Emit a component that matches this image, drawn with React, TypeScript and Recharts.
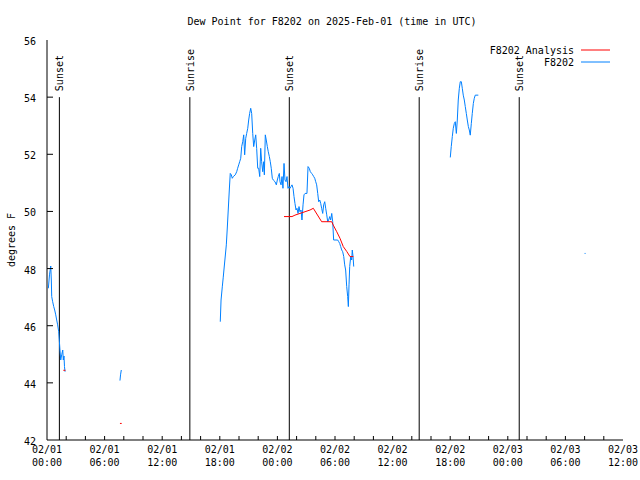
import React from "react";
import { LineChart, Line, XAxis, YAxis, ReferenceLine, ReferenceDot } from "recharts";

// hours since 02/01 00:00 UTC, dew point in °F
const obsSeg1 = [
  { h: 0.14, v: 47.31 }, { h: 0.26, v: 47.78 }, { h: 0.39, v: 48.09 }, { h: 0.45, v: 47.6 },
  { h: 0.49, v: 47.02 }, { h: 0.59, v: 46.84 }, { h: 0.7, v: 46.67 }, { h: 0.8, v: 46.55 },
  { h: 0.91, v: 46.38 }, { h: 1.01, v: 46.2 }, { h: 1.11, v: 46.03 }, { h: 1.22, v: 45.79 },
  { h: 1.28, v: 45.5 }, { h: 1.35, v: 45.15 }, { h: 1.43, v: 44.8 }, { h: 1.53, v: 44.98 },
  { h: 1.64, v: 45.15 }, { h: 1.7, v: 44.8 }, { h: 1.77, v: 44.94 }, { h: 1.82, v: 44.57 },
  { h: 1.88, v: 44.39 },
];

const obsSeg2 = [
  { h: 7.6, v: 44.08 }, { h: 7.66, v: 44.28 }, { h: 7.74, v: 44.45 },
];

const obsSeg3 = [
  { h: 18.05, v: 46.14 }, { h: 18.13, v: 46.9 }, { h: 18.26, v: 47.36 }, { h: 18.36, v: 47.7 },
  { h: 18.47, v: 48.09 }, { h: 18.57, v: 48.44 }, { h: 18.68, v: 48.83 }, { h: 18.78, v: 49.42 },
  { h: 18.89, v: 50.12 }, { h: 18.99, v: 50.75 }, { h: 19.09, v: 51.33 }, { h: 19.2, v: 51.28 },
  { h: 19.3, v: 51.16 }, { h: 19.41, v: 51.22 }, { h: 19.61, v: 51.28 }, { h: 19.76, v: 51.39 },
  { h: 19.86, v: 51.51 }, { h: 19.97, v: 51.63 }, { h: 20.07, v: 51.74 }, { h: 20.18, v: 51.86 },
  { h: 20.28, v: 52.27 }, { h: 20.39, v: 52.44 }, { h: 20.49, v: 52.68 }, { h: 20.59, v: 51.98 },
  { h: 20.7, v: 52.56 }, { h: 20.8, v: 52.73 }, { h: 20.91, v: 52.91 }, { h: 21.01, v: 53.2 },
  { h: 21.11, v: 53.43 }, { h: 21.22, v: 53.61 }, { h: 21.32, v: 53.43 }, { h: 21.43, v: 52.73 },
  { h: 21.53, v: 52.27 }, { h: 21.64, v: 52.5 }, { h: 21.74, v: 52.68 }, { h: 21.84, v: 52.21 },
  { h: 21.95, v: 51.51 }, { h: 22.05, v: 51.51 }, { h: 22.16, v: 51.22 }, { h: 22.26, v: 52.21 },
  { h: 22.36, v: 51.74 }, { h: 22.47, v: 51.39 }, { h: 22.57, v: 51.74 }, { h: 22.64, v: 51.28 },
  { h: 22.74, v: 52.68 }, { h: 22.84, v: 52.5 }, { h: 22.95, v: 52.27 }, { h: 23.05, v: 52.09 },
  { h: 23.16, v: 51.92 }, { h: 23.26, v: 51.74 }, { h: 23.36, v: 51.51 }, { h: 23.47, v: 51.16 },
  { h: 23.57, v: 51.1 }, { h: 23.75, v: 51.04 }, { h: 23.89, v: 50.93 }, { h: 23.99, v: 51.1 },
  { h: 24.09, v: 51.22 }, { h: 24.2, v: 51.33 }, { h: 24.27, v: 51.04 }, { h: 24.38, v: 50.93 },
  { h: 24.48, v: 51.22 }, { h: 24.58, v: 50.81 }, { h: 24.69, v: 51.68 }, { h: 24.79, v: 51.1 },
  { h: 24.9, v: 51.04 }, { h: 25.0, v: 51.22 }, { h: 25.1, v: 50.81 }, { h: 25.21, v: 50.87 },
  { h: 25.31, v: 50.81 }, { h: 25.42, v: 50.87 }, { h: 25.52, v: 50.93 }, { h: 25.63, v: 50.81 },
  { h: 25.73, v: 50.52 }, { h: 25.83, v: 50.28 }, { h: 25.94, v: 50.05 }, { h: 26.04, v: 50.11 },
  { h: 26.15, v: 49.93 }, { h: 26.25, v: 50.17 }, { h: 26.35, v: 49.99 }, { h: 26.46, v: 50.05 },
  { h: 26.56, v: 49.7 }, { h: 26.67, v: 50.23 }, { h: 26.77, v: 50.58 }, { h: 26.88, v: 50.63 },
  { h: 27.08, v: 50.63 }, { h: 27.19, v: 51.57 }, { h: 27.32, v: 51.51 }, { h: 27.43, v: 51.39 },
  { h: 27.57, v: 51.33 }, { h: 27.68, v: 51.28 }, { h: 27.78, v: 51.22 }, { h: 27.89, v: 51.16 },
  { h: 27.99, v: 51.04 }, { h: 28.09, v: 50.93 }, { h: 28.2, v: 50.63 }, { h: 28.3, v: 50.34 },
  { h: 28.41, v: 50.4 }, { h: 28.51, v: 50.28 }, { h: 28.61, v: 50.11 }, { h: 28.72, v: 49.93 },
  { h: 28.82, v: 50.23 }, { h: 28.93, v: 50.34 }, { h: 29.03, v: 50.11 }, { h: 29.14, v: 49.88 },
  { h: 29.24, v: 49.64 }, { h: 29.34, v: 49.7 }, { h: 29.45, v: 49.82 }, { h: 29.55, v: 49.7 },
  { h: 29.66, v: 49.93 }, { h: 29.76, v: 49.64 }, { h: 29.86, v: 49.0 }, { h: 30.28, v: 49.0 },
  { h: 30.39, v: 48.94 }, { h: 30.49, v: 48.88 }, { h: 30.59, v: 48.77 }, { h: 30.7, v: 48.65 },
  { h: 30.8, v: 48.59 }, { h: 30.91, v: 48.42 }, { h: 31.01, v: 48.13 }, { h: 31.11, v: 47.95 },
  { h: 31.22, v: 47.37 }, { h: 31.32, v: 47.02 }, { h: 31.39, v: 46.67 }, { h: 31.46, v: 47.43 },
  { h: 31.53, v: 48.07 }, { h: 31.64, v: 48.42 }, { h: 31.74, v: 48.3 }, { h: 31.8, v: 48.65 },
  { h: 31.88, v: 48.42 }, { h: 31.95, v: 48.07 },
];

const obsSeg4 = [
  { h: 42.01, v: 51.89 }, { h: 42.11, v: 52.27 }, { h: 42.22, v: 52.62 }, { h: 42.32, v: 52.91 },
  { h: 42.43, v: 53.08 }, { h: 42.53, v: 53.14 }, { h: 42.64, v: 52.73 }, { h: 42.74, v: 53.2 },
  { h: 42.84, v: 53.9 }, { h: 42.95, v: 54.31 }, { h: 43.05, v: 54.54 }, { h: 43.16, v: 54.54 },
  { h: 43.26, v: 54.31 }, { h: 43.36, v: 54.07 }, { h: 43.47, v: 53.9 }, { h: 43.57, v: 53.67 },
  { h: 43.68, v: 53.43 }, { h: 43.78, v: 53.2 }, { h: 43.89, v: 52.97 }, { h: 43.99, v: 52.85 },
  { h: 44.09, v: 52.67 }, { h: 44.2, v: 53.08 }, { h: 44.3, v: 53.43 }, { h: 44.41, v: 53.78 },
  { h: 44.51, v: 53.96 }, { h: 44.61, v: 54.07 }, { h: 44.93, v: 54.07 },
];

const obsSeg5 = [{ h: 56.0, v: 48.53 }, { h: 56.1, v: 48.53 }];

const anaSeg1 = [{ h: 1.7, v: 44.44 }, { h: 1.92, v: 44.44 }];
const anaSeg2 = [{ h: 7.6, v: 42.58 }, { h: 7.78, v: 42.58 }];
const anaSeg3 = [
  { h: 24.69, v: 49.82 }, { h: 25.52, v: 49.82 }, { h: 25.83, v: 49.87 }, { h: 26.35, v: 49.93 },
  { h: 26.88, v: 49.99 }, { h: 27.4, v: 50.05 }, { h: 27.74, v: 50.11 }, { h: 28.61, v: 49.64 },
  { h: 29.66, v: 49.64 }, { h: 29.82, v: 49.52 }, { h: 30.18, v: 49.29 }, { h: 30.52, v: 49.06 },
  { h: 30.86, v: 48.77 }, { h: 31.22, v: 48.6 }, { h: 31.56, v: 48.42 }, { h: 31.91, v: 48.42 },
];

const obsSegments = [obsSeg1, obsSeg2, obsSeg3, obsSeg4, obsSeg5];
const anaSegments = [anaSeg1, anaSeg2, anaSeg3];

const sunEvents = [
  { h: 1.29, label: "Sunset" },
  { h: 14.88, label: "Sunrise" },
  { h: 25.24, label: "Sunset" },
  { h: 38.77, label: "Sunrise" },
  { h: 49.19, label: "Sunset" },
];

const xTickHours = [0, 6, 12, 18, 24, 30, 36, 42, 48, 54, 60];
const xTickLabels = [
  ["02/01", "00:00"], ["02/01", "06:00"], ["02/01", "12:00"], ["02/01", "18:00"],
  ["02/02", "00:00"], ["02/02", "06:00"], ["02/02", "12:00"], ["02/02", "18:00"],
  ["02/03", "00:00"], ["02/03", "06:00"], ["02/03", "12:00"],
];
const xMinorHours = [
  0, 2, 4, 6, 8, 10, 12, 14, 16, 18, 20, 22, 24, 26, 28, 30,
  32, 34, 36, 38, 40, 42, 44, 46, 48, 50, 52, 54, 56, 58, 60,
];
const yTicks = [42, 44, 46, 48, 50, 52, 54, 56];

const OBS_COLOR = "#0080ff";
const ANA_COLOR = "#ff0000";
const FONT = "'DejaVu Sans Mono', monospace";
const PLOT_L = 47;
const PLOT_R = 623;
const PLOT_T = 40;
const PLOT_B = 440;

function BottomTick(props: any) {
  const { x, payload } = props;
  const i = xTickHours.indexOf(payload.value);
  const edge = payload.value === 0 || payload.value === 60;
  return (
    <g>
      {!edge && (
        <path d={`M${x},${PLOT_B}V${PLOT_B - 4}`} stroke="#000" strokeWidth={1} fill="none" />
      )}
      {i >= 0 && (
        <text x={x} textAnchor="middle" fontFamily={FONT} fontSize={10} fill="#000" stroke="none">
          <tspan x={x} y={453}>{xTickLabels[i][0]}</tspan>
          <tspan x={x} y={466}>{xTickLabels[i][1]}</tspan>
        </text>
      )}
    </g>
  );
}

function TopTick(props: any) {
  const { x, payload } = props;
  if (payload.value === 0 || payload.value === 60) return <g />;
  return <path d={`M${x},${PLOT_T}V${PLOT_T + 4}`} stroke="#000" strokeWidth={1} fill="none" />;
}

function LeftTick(props: any) {
  const { y, payload } = props;
  const edge = payload.value === 42 || payload.value === 56;
  return (
    <g>
      {!edge && (
        <path d={`M${PLOT_L},${y}H${PLOT_L + 6}`} stroke="#000" strokeWidth={1} fill="none" />
      )}
      <text x={36} y={y + 5} textAnchor="end" fontFamily={FONT} fontSize={10} fill="#000" stroke="none">
        {payload.value}
      </text>
    </g>
  );
}

function RightTick(props: any) {
  const { y, payload } = props;
  if (payload.value === 42 || payload.value === 56) return <g />;
  return <path d={`M${PLOT_R - 6},${y}H${PLOT_R}`} stroke="#000" strokeWidth={1} fill="none" />;
}

export default function App() {
  return (
    <div style={{ position: "relative", width: 640, height: 480, background: "#fff" }}>
      <style>{"body{margin:0}"}</style>
      <LineChart width={640} height={480} margin={{ top: 40, right: 17, bottom: 0, left: 0 }}>
        <XAxis
          xAxisId="b"
          type="number"
          dataKey="h"
          domain={[0, 60]}
          ticks={xMinorHours}
          interval={0}
          tick={<BottomTick />}
          tickLine={false}
          axisLine={{ stroke: "#000" }}
          height={40}
        />
        <XAxis
          xAxisId="t"
          orientation="top"
          type="number"
          dataKey="h"
          domain={[0, 60]}
          ticks={xMinorHours}
          interval={0}
          tick={<TopTick />}
          tickLine={false}
          axisLine={{ stroke: "#000" }}
          height={0}
        />
        <YAxis
          yAxisId="l"
          type="number"
          domain={[42, 56]}
          ticks={yTicks}
          interval={0}
          tick={<LeftTick />}
          tickLine={false}
          axisLine={{ stroke: "#000" }}
          width={47}
        />
        <YAxis
          yAxisId="r"
          orientation="right"
          type="number"
          domain={[42, 56]}
          ticks={yTicks}
          interval={0}
          tick={<RightTick />}
          tickLine={false}
          axisLine={{ stroke: "#000" }}
          width={0}
        />
        {sunEvents.map((s, i) => (
          <ReferenceLine
            key={"sl" + i}
            xAxisId="b"
            yAxisId="l"
            segment={[{ x: s.h, y: 42 }, { x: s.h, y: 54 }]}
            stroke="#000"
            strokeWidth={1}
          />
        ))}
        {sunEvents.map((s, i) => (
          <ReferenceDot
            key={"st" + i}
            xAxisId="b"
            yAxisId="l"
            x={s.h}
            y={54}
            r={0}
            shape={(p: any) => (
              <text
                x={p.cx + 4}
                y={p.cy - 6}
                transform={`rotate(-90, ${p.cx + 4}, ${p.cy - 6})`}
                textAnchor="start"
                fontFamily={FONT}
                fontSize={10}
                fill="#000"
              >
                {s.label}
              </text>
            )}
          />
        ))}
        {obsSegments.map((seg, i) => (
          <Line
            key={"o" + i}
            xAxisId="b"
            yAxisId="l"
            data={seg}
            dataKey="v"
            type="linear"
            stroke={OBS_COLOR}
            strokeWidth={1}
            dot={false}
            isAnimationActive={false}
          />
        ))}
        {anaSegments.map((seg, i) => (
          <Line
            key={"a" + i}
            xAxisId="b"
            yAxisId="l"
            data={seg}
            dataKey="v"
            type="linear"
            stroke={ANA_COLOR}
            strokeWidth={1}
            dot={false}
            isAnimationActive={false}
          />
        ))}
      </LineChart>
      <svg
        width={640}
        height={480}
        style={{ position: "absolute", left: 0, top: 0, pointerEvents: "none" }}
      >
        <text x={332} y={25} textAnchor="middle" fontFamily={FONT} fontSize={10} fill="#000">
          Dew Point for F8202 on 2025-Feb-01 (time in UTC)
        </text>
        <text
          x={15}
          y={240}
          transform="rotate(-90, 15, 240)"
          textAnchor="middle"
          fontFamily={FONT}
          fontSize={10}
          fill="#000"
        >
          degrees F
        </text>
        <text x={574} y={54} textAnchor="end" fontFamily={FONT} fontSize={10} fill="#000">
          F8202 Analysis
        </text>
        <line x1={581} x2={610} y1={50} y2={50} stroke={ANA_COLOR} />
        <text x={574} y={66} textAnchor="end" fontFamily={FONT} fontSize={10} fill="#000">
          F8202
        </text>
        <line x1={581} x2={610} y1={62} y2={62} stroke={OBS_COLOR} />
      </svg>
    </div>
  );
}
